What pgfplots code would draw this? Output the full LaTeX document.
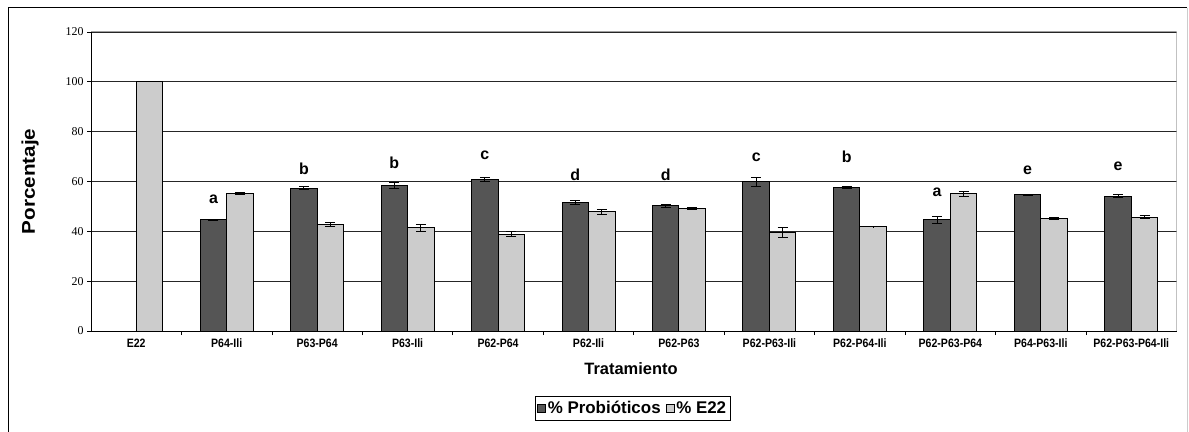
\documentclass[border=0pt]{standalone}
\usepackage{fontspec}
\setmainfont{Liberation Serif}
\newfontfamily\arial{Liberation Sans}
\usepackage{graphicx}
\usepackage{pgfplots}
\pgfplotsset{compat=1.18}

\definecolor{darkbar}{HTML}{555555}
\definecolor{lightbar}{HTML}{CCCCCC}
\definecolor{framegray}{HTML}{A0A0A0}
\newcommand{\vs}[1]{\scalebox{1}[1.15]{#1}}

\begin{document}
\begin{tikzpicture}
\useasboundingbox (0,0) rectangle (1189bp,432bp);
\fill[white] (0,0) rectangle (1189bp,432bp);
\draw[black, line width=1bp] (8bp,0) -- (8bp,424bp) -- (1187bp,424bp);
\draw[black!20, line width=1bp] (1187bp,424bp) -- (1187bp,0);
\begin{axis}[
  at={(91bp,101bp)}, anchor=south west,
  width=1085.5bp, height=299bp, scale only axis,
  xmin=-0.5, xmax=11.5, ymin=0, ymax=120,
  ytick={0,20,...,120},
  xtick={0,...,11},
  xticklabels={\vs{E22},\vs{P64-Ili},\vs{P63-P64},\vs{P63-Ili},\vs{P62-P64},\vs{P62-Ili},\vs{P62-P63},\vs{P62-P63-Ili},\vs{P62-P64-Ili},\vs{P62-P63-P64},\vs{P64-P63-Ili},\vs{P62-P63-P64-Ili}},
  major x tick style={draw=none},
  minor xtick={0.5,1.5,...,10.5},
  minor tick length=4bp,
  major tick length=4bp,
  tick align=outside,
  axis lines*=left,
  axis line style={black, line width=1bp},
  tick style={black, line width=0.8bp},
  ymajorgrids,
  grid style={black!85, line width=0.8bp},
  /pgf/number format/assume math mode=true,
  yticklabel style={font=\fontsize{12}{14}\selectfont},
  xticklabel style={font=\arial\bfseries\fontsize{10.6}{12}\selectfont},
  xlabel={Tratamiento},
  xlabel style={at={(axis description cs:0.4975,-0.127)}, anchor=center, font=\arial\bfseries\fontsize{16.5}{18}\selectfont},
  ylabel={\scalebox{1.12}[1]{Porcentaje}},
  ylabel style={at={(axis description cs:-0.0562,0.5)}, anchor=center, font=\arial\bfseries\fontsize{18.5}{20}\selectfont},
  legend style={at={(axis description cs:0.499,-0.2575)}, anchor=center, draw=black, line width=0.8bp,
    font=\arial\bfseries\fontsize{17}{19}\selectfont, inner xsep=2bp, inner ysep=3bp,
    /tikz/every even column/.append style={column sep=3bp}},
  legend columns=2,
  legend image code/.code={\draw[#1, draw=black, line width=0.6bp] (0bp,-4bp) rectangle (8bp,4bp);},
]
\addplot[ybar, bar width=0.293, bar shift=0, fill=darkbar, draw=black, line width=1bp,
  error bars/.cd, y dir=both, y explicit,
  error bar style={black, line width=1bp},
  error mark options={rotate=90, mark size=5bp, line width=1bp, black}]
coordinates {
(0.8535,44.6) +- (0,0.1)
(1.8535,57.3) +- (0,0.7)
(2.8535,58.3) +- (0,1.3)
(3.8535,60.9) +- (0,0.8)
(4.8535,51.5) +- (0,0.9)
(5.8535,50.3) +- (0,0.6)
(6.8535,59.8) +- (0,1.9)
(7.8535,57.5) +- (0,0.3)
(8.8535,44.7) +- (0,1.4)
(9.8535,54.6) +- (0,0.1)
(10.8535,54.0) +- (0,0.6)
};
\addplot[ybar, bar width=0.293, bar shift=0, fill=lightbar, draw=black, line width=1bp,
  error bars/.cd, y dir=both, y explicit,
  error bar style={black, line width=1bp},
  error mark options={rotate=90, mark size=5bp, line width=1bp, black}]
coordinates {
(0.1465,100) +- (0,0)
(1.1465,55.1) +- (0,0.3)
(2.1465,42.7) +- (0,0.7)
(3.1465,41.5) +- (0,1.4)
(4.1465,38.9) +- (0,0.9)
(5.1465,47.8) +- (0,0.9)
(6.1465,49.2) +- (0,0.4)
(7.1465,39.5) +- (0,1.9)
(8.1465,41.9) +- (0,0.1)
(9.1465,55.1) +- (0,1.0)
(10.1465,45.1) +- (0,0.4)
(11.1465,45.7) +- (0,0.6)
};
\legend{\% Probióticos,\% E22}
\addplot[forget plot, draw=none, mark=none, nodes near coords, point meta=explicit symbolic,
  every node near coord/.style={anchor=center, inner sep=0pt, font=\arial\bfseries\fontsize{16}{18}\selectfont}]
coordinates {
(0.8535,52.9) [a]
(1.8535,65.0) [b]
(2.8535,67.7) [b]
(3.8535,70.6) [c]
(4.8535,62.6) [d]
(5.8535,62.6) [d]
(6.8535,69.7) [c]
(7.8535,70.0) [b]
(8.8535,55.7) [a]
(9.8535,64.6) [e]
(10.8535,66.2) [e]
};
\draw[framegray, line width=1bp] (rel axis cs:0,1) -- (rel axis cs:1,1) -- (rel axis cs:1,0);
\end{axis}
\end{tikzpicture}
\end{document}
